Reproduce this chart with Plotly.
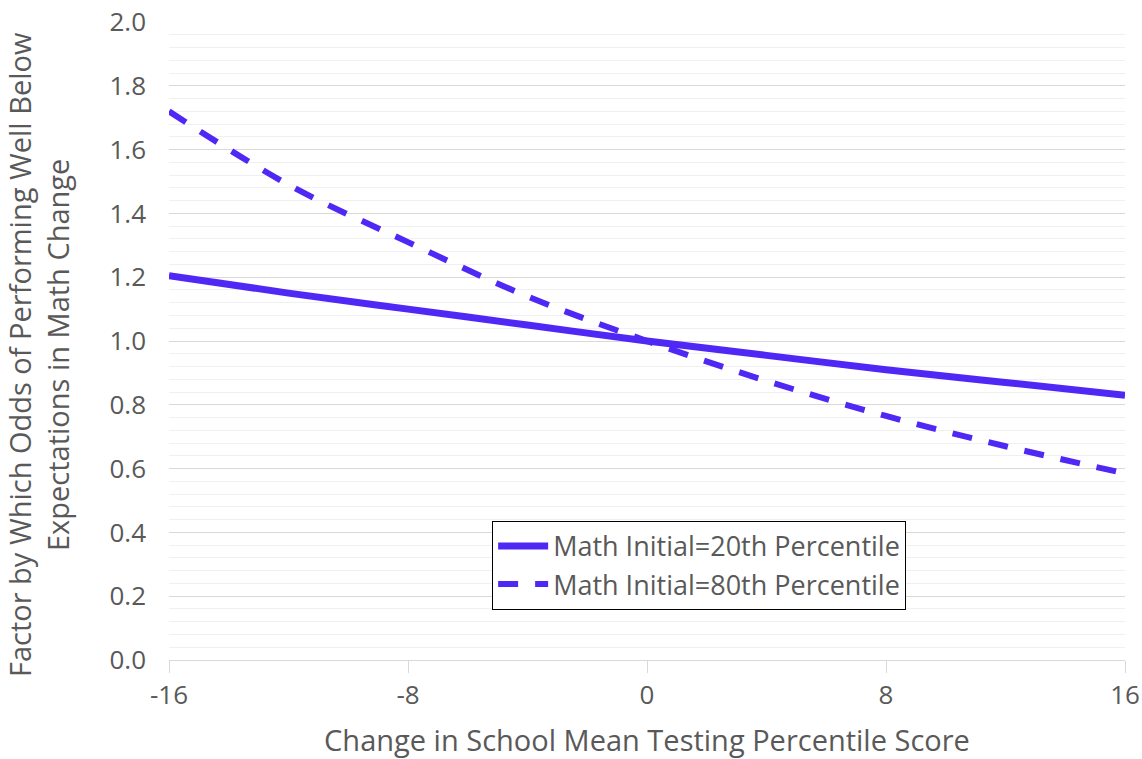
import plotly.graph_objects as go

x_vals = [-16, -12, -8, -4, 0, 4, 8, 12, 16]
math_20th = [1.205, 1.15, 1.10, 1.05, 1.00, 0.955, 0.91, 0.87, 0.83]
math_80th = [1.72, 1.49, 1.31, 1.14, 1.00, 0.875, 0.765, 0.67, 0.585]
series_names = ["Math Initial=20th Percentile", "Math Initial=80th Percentile"]
x_ticks = [-16, -8, 0, 8, 16]
x_tick_labels = ["-16", "-8", "0", "8", "16"]
y_title = "Factor by Which Odds of Performing Well Below<br>Expectations in Math Change"
x_title = "Change in School Mean Testing Percentile Score"

LINE_COLOR = "rgb(80,40,245)"
TEXT_COLOR = "#595959"
FONT = "Open Sans"

fig = go.Figure()
fig.add_trace(go.Scatter(x=x_vals, y=math_20th, mode="lines", name=series_names[0],
                         line=dict(color=LINE_COLOR, width=7, shape="spline")))
fig.add_trace(go.Scatter(x=x_vals, y=math_80th, mode="lines", name=series_names[1],
                         line=dict(color=LINE_COLOR, width=6, dash="20px,17px", shape="spline")))

fig.add_annotation(text=y_title, xref="paper", yref="paper", x=-0.137, y=0.478,
                   xanchor="center", yanchor="middle", textangle=-90, showarrow=False,
                   font=dict(size=29, color=TEXT_COLOR, family=FONT), align="center")

fig.update_layout(
    width=1142, height=759,
    margin=dict(l=169, r=17, t=22, b=99),
    paper_bgcolor="white", plot_bgcolor="white",
    font=dict(family=FONT, color=TEXT_COLOR, size=24),
    showlegend=True,
    legend=dict(x=0.338, y=0.218, xanchor="left", yanchor="top",
                bordercolor="black", borderwidth=1, bgcolor="white",
                font=dict(size=27, color=TEXT_COLOR), itemwidth=50,
                tracegroupgap=0),
    xaxis=dict(range=[-16, 16], tickvals=x_ticks, ticktext=x_tick_labels,
               showgrid=False, zeroline=False,
               showline=True, linecolor="#d9d9d9", linewidth=1,
               ticks="outside", ticklen=12, tickcolor="#d9d9d9",
               tickfont=dict(size=26, color=TEXT_COLOR), automargin=False,
               title=dict(text=x_title, font=dict(size=29, color=TEXT_COLOR), standoff=19)),
    yaxis=dict(range=[0, 2.0], dtick=0.2, tickformat=".1f", showgrid=True,
               gridcolor="#d9d9d9", gridwidth=1, zeroline=False, showline=False,
               ticklabelstandoff=22, automargin=False,
               minor=dict(dtick=0.04, showgrid=True, gridcolor="#f0f0f0", gridwidth=1),
               tickfont=dict(size=26, color=TEXT_COLOR)),
)

fig.write_html("out.html", config={"displayModeBar": False},
               post_script="document.body.style.margin='0';document.body.style.padding='0';")
